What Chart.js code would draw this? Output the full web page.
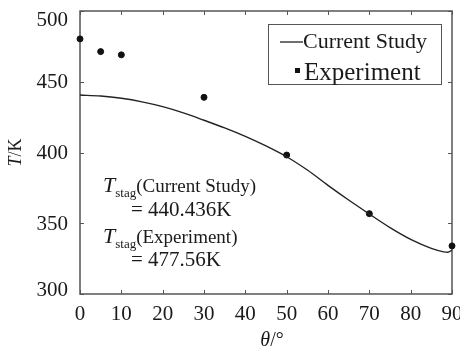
<!DOCTYPE html>
<html>
<head>
<meta charset="utf-8">
<script src="https://cdn.jsdelivr.net/npm/chart.js@4"></script>
<style>
  html, body { margin: 0; padding: 0; background: #fff; }
  #wrap { width: 460px; height: 356px; position: relative; }
</style>
</head>
<body>
<div id="wrap"><canvas id="chart" width="460" height="356"></canvas></div>
<script>
// curva do modelo
const modelAngles = [0, 5, 10, 15, 20, 25, 30, 35, 40, 45, 50, 55, 60, 65, 70, 75, 80, 85, 88, 89, 90];
const modelTemps  = [440.6, 439.9, 438.3, 435.8, 432.4, 428.0, 422.8, 417.4, 411.4, 404.6, 397.0,
                     387.6, 376.8, 366.4, 356.5, 346.9, 338.6, 332.3, 329.8, 329.5, 331.0];
// pontos experimentais
const expAngles = [0, 5, 10, 30, 50, 70, 90];
const expTemps  = [480.3, 471.3, 469.0, 439.0, 398.2, 356.8, 334.0];

const xTickRange = { min: 0, max: 90, step: 10 };
const yTickRange = { min: 300, max: 500, step: 50 };

const serieLabels = ['Current Study', 'Experiment'];
const notes = [
  { sub: 'stag', text: '(Current Study)', value: '= 440.436K' },
  { sub: 'stag', text: '(Experiment)', value: '= 477.56K' }
];

const SERIF = '"Liberation Serif", "Times New Roman", serif';
const INK = '#1a1a1a';
const FRAME = '#555';

Chart.defaults.font.family = SERIF;
Chart.defaults.color = INK;

const decor = {
  id: 'decor',
  beforeDatasetsDraw(chart) {
    const { ctx, chartArea: a, scales: { x, y } } = chart;
    ctx.save();
    ctx.strokeStyle = FRAME;
    ctx.lineWidth = 1.5;
    ctx.strokeRect(a.left, a.top, a.right - a.left, a.bottom - a.top);
    ctx.lineWidth = 1;
    ctx.beginPath();
    x.ticks.forEach(t => {
      const px = Math.round(x.getPixelForValue(t.value)) + 0.5;
      ctx.moveTo(px, a.bottom); ctx.lineTo(px, a.bottom - 4);
      ctx.moveTo(px, a.top); ctx.lineTo(px, a.top + 4);
    });
    y.ticks.forEach(t => {
      const py = Math.round(y.getPixelForValue(t.value)) + 0.5;
      ctx.moveTo(a.left, py); ctx.lineTo(a.left + 4, py);
      ctx.moveTo(a.right, py); ctx.lineTo(a.right - 4, py);
    });
    ctx.stroke();

    // rótulos do eixo y (os extremos ficam puxados para dentro, como no original)
    ctx.fillStyle = INK;
    ctx.font = '21px ' + SERIF;
    ctx.textAlign = 'right';
    ctx.textBaseline = 'middle';
    y.ticks.forEach(t => {
      let py = y.getPixelForValue(t.value);
      if (t.value === yTickRange.max) py += 8;
      if (t.value === yTickRange.min) py -= 5;
      ctx.fillText(String(t.value), a.left - 12, py + 1);
    });
    ctx.restore();
  },
  afterDraw(chart) {
    const { ctx, chartArea: a } = chart;
    ctx.save();
    ctx.fillStyle = INK;
    ctx.textBaseline = 'alphabetic';

    // titulo eixo y: T/K
    ctx.save();
    ctx.translate(21, (a.top + a.bottom) / 2);
    ctx.rotate(-Math.PI / 2);
    ctx.font = 'italic 18px ' + SERIF;
    const wT = ctx.measureText('T').width;
    ctx.font = '18px ' + SERIF;
    const wK = ctx.measureText('/K').width;
    let sx = -(wT + wK) / 2;
    ctx.font = 'italic 18px ' + SERIF;
    ctx.fillText('T', sx, 0);
    ctx.font = '18px ' + SERIF;
    ctx.fillText('/K', sx + wT, 0);
    ctx.restore();

    // titulo eixo x: θ/°
    ctx.font = 'italic 20px ' + SERIF;
    const wTh = ctx.measureText('θ').width;
    ctx.font = '20px ' + SERIF;
    const wDeg = ctx.measureText('/°').width;
    let tx = 272 - (wTh + wDeg) / 2;
    ctx.font = 'italic 20px ' + SERIF;
    ctx.fillText('θ', tx, 346);
    ctx.font = '20px ' + SERIF;
    ctx.fillText('/°', tx + wTh, 346);

    // legenda
    const lx = a.right - 184, ly = a.top + 13;
    ctx.strokeStyle = FRAME;
    ctx.lineWidth = 1;
    ctx.strokeRect(lx + 0.5, ly + 0.5, 173, 60);
    ctx.strokeStyle = '#222';
    ctx.lineWidth = 1.3;
    ctx.beginPath();
    ctx.moveTo(lx + 12, ly + 18); ctx.lineTo(lx + 35, ly + 18);
    ctx.stroke();
    ctx.font = '22px ' + SERIF;
    ctx.fillText(serieLabels[0], lx + 35, ly + 24);
    ctx.fillStyle = '#111';
    ctx.fillRect(lx + 27, ly + 44, 5, 5);
    ctx.fillStyle = INK;
    ctx.font = '25px ' + SERIF;
    ctx.fillText(serieLabels[1], lx + 36, ly + 56);

    // anotações T_stag
    const bases = [[192, 215.5], [243, 265.5]];
    notes.forEach((n, i) => {
      let x0 = a.left + 23;
      ctx.font = 'italic 22px ' + SERIF;
      ctx.fillText('T', x0, bases[i][0]);
      x0 += ctx.measureText('T').width;
      ctx.font = '13px ' + SERIF;
      ctx.fillText(n.sub, x0, bases[i][0] + 5);
      x0 += ctx.measureText(n.sub).width;
      ctx.font = '19px ' + SERIF;
      ctx.fillText(n.text, x0, bases[i][0]);
      ctx.font = '21px ' + SERIF;
      ctx.fillText(n.value, a.left + 51, bases[i][1]);
    });
    ctx.restore();
  }
};

new Chart(document.getElementById('chart'), {
  type: 'scatter',
  data: {
    datasets: [
      {
        label: serieLabels[0],
        type: 'line',
        data: modelAngles.map((a, i) => ({ x: a, y: modelTemps[i] })),
        borderColor: '#222',
        borderWidth: 1.4,
        pointRadius: 0,
        cubicInterpolationMode: 'monotone',
        fill: false,
        clip: false
      },
      {
        label: serieLabels[1],
        data: expAngles.map((a, i) => ({ x: a, y: expTemps[i] })),
        backgroundColor: '#111',
        borderColor: '#111',
        pointRadius: 3,
        pointStyle: 'circle',
        clip: false
      }
    ]
  },
  options: {
    responsive: false,
    animation: false,
    layout: { padding: { left: 0, right: 8, top: 11, bottom: 0 } },
    plugins: { legend: { display: false }, tooltip: { enabled: false } },
    scales: {
      x: {
        type: 'linear',
        min: xTickRange.min, max: xTickRange.max,
        ticks: { stepSize: xTickRange.step, autoSkip: false, font: { size: 21 }, color: INK, padding: 8, maxRotation: 0 },
        grid: { display: false, drawTicks: false },
        border: { display: false },
        afterFit(s) { s.height = 62; s.paddingLeft = 0; s.paddingRight = 0; }
      },
      y: {
        min: yTickRange.min, max: yTickRange.max,
        ticks: { stepSize: yTickRange.step, autoSkip: false, display: false },
        grid: { display: false, drawTicks: false },
        border: { display: false },
        afterFit(s) { s.width = 80; s.paddingTop = 0; s.paddingBottom = 0; }
      }
    }
  },
  plugins: [decor]
});
</script>
</body>
</html>
